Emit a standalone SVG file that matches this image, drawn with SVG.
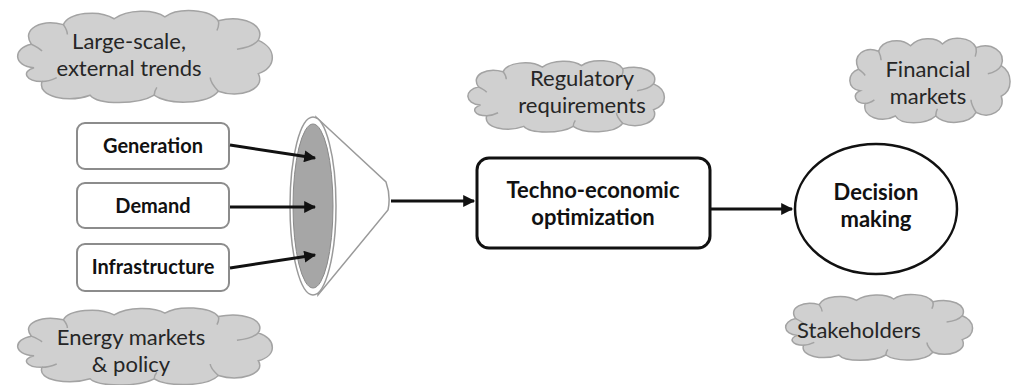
<svg xmlns="http://www.w3.org/2000/svg" xmlns:xlink="http://www.w3.org/1999/xlink" width="1017" height="385" viewBox="0 0 1017 385">
<style>
.cloud{fill:#d0d0d0;stroke:#a3a3a3;stroke-width:1.5}
.cloud .in{fill:none}
.ct{font-family:Lato,"Open Sans",sans-serif;font-size:22px;fill:#262626;text-anchor:middle}
.box{fill:#fff;stroke:#8c8c8c;stroke-width:2}
.bt{font-family:Lato,"Open Sans",sans-serif;font-weight:bold;font-size:20px;fill:#111;text-anchor:middle}
.bt2{font-family:Lato,"Open Sans",sans-serif;font-weight:bold;font-size:22px;fill:#111;text-anchor:middle}
.conn{stroke:#111;stroke-width:3;fill:none;marker-end:url(#ah)}
</style>
<defs>
<marker id="ah" viewBox="0 0 10 10" refX="9" refY="5" markerWidth="4.2" markerHeight="4" orient="auto" markerUnits="strokeWidth">
<path d="M0,0 L10,5 L0,10 z" fill="#111"/>
</marker>
<g id="cl">
<path vector-effect="non-scaling-stroke" d="M18,62 C2,60 2,42 16,38 C8,22 24,12 40,18 C44,6 66,2 78,12 C88,2 108,2 116,10 C126,0 150,2 156,14 C174,8 192,18 186,34 C200,42 200,62 186,68 C192,84 172,94 156,86 C148,100 118,100 108,90 C96,100 66,100 60,90 C44,98 20,92 24,76 C12,76 8,66 18,62 Z"/>
<path class="in" vector-effect="non-scaling-stroke" d="M40,18 C42,22 43,25 43,28 M156,14 C157,18 156,21 155,24 M186,34 C182,40 176,42 170,43 M156,86 C152,80 150,76 150,72 M108,90 C108,87 109,84 110,82 M24,76 C28,76 32,74 35,72 M16,38 C19,40 22,42 24,45"/>
</g>
</defs>
<g id="cloud-trends">
<use xlink:href="#cl" class="cloud" transform="translate(10,7) scale(1.335,0.98)"/>
<text class="ct" x="129" y="49">Large-scale,</text>
<text class="ct" x="129" y="76">external trends</text>
</g>
<g id="cloud-regulatory">
<use xlink:href="#cl" class="cloud" transform="translate(462,58) scale(1.03,0.76)"/>
<text class="ct" x="582" y="86">Regulatory</text>
<text class="ct" x="582" y="113">requirements</text>
</g>
<g id="cloud-financial">
<use xlink:href="#cl" class="cloud" transform="translate(845,35) scale(0.84,0.9)"/>
<text class="ct" x="928" y="77">Financial</text>
<text class="ct" x="928" y="104">markets</text>
</g>
<g id="cloud-energy">
<use xlink:href="#cl" class="cloud" transform="translate(10,305) scale(1.335,0.82)"/>
<text class="ct" x="131" y="345">Energy markets</text>
<text class="ct" x="131" y="372">&amp; policy</text>
</g>
<g id="cloud-stakeholders">
<use xlink:href="#cl" class="cloud" transform="translate(780,292) scale(0.98,0.7)"/>
<text class="ct" x="859" y="338">Stakeholders</text>
</g>
<g id="generation">
<rect class="box" x="77" y="123" width="152" height="46" rx="8"/>
<text class="bt" x="153" y="153">Generation</text>
</g>
<g id="demand">
<rect class="box" x="77" y="183" width="152" height="45" rx="8"/>
<text class="bt" x="153" y="213">Demand</text>
</g>
<g id="infrastructure">
<rect class="box" x="77" y="244" width="152" height="47" rx="8"/>
<text class="bt" x="153" y="274">Infrastructure</text>
</g>
<g id="funnel">
<path d="M316,117 L386,182 Q391,196 388,210 L318,295 Z" fill="#fff" stroke="#9a9a9a" stroke-width="1.5"/>
<ellipse cx="313" cy="206" rx="23" ry="89" fill="#fff" stroke="#9a9a9a" stroke-width="1.5"/>
<ellipse cx="313" cy="206" rx="20" ry="82" fill="#a6a6a6" stroke="#8a8a8a" stroke-width="1"/>
</g>
<g id="techno">
<rect x="477" y="158" width="233" height="90" rx="12" fill="#fff" stroke="#111" stroke-width="3"/>
<text class="bt2" x="593" y="198">Techno-economic</text>
<text class="bt2" x="593" y="225">optimization</text>
</g>
<g id="decision">
<ellipse cx="876" cy="209" rx="81" ry="65" fill="#fff" stroke="#111" stroke-width="2.5"/>
<text class="bt2" x="876" y="200">Decision</text>
<text class="bt2" x="876" y="227">making</text>
</g>
<g id="connectors">
<line class="conn" x1="230" y1="145" x2="315" y2="158"/>
<line class="conn" x1="230" y1="207" x2="315" y2="207"/>
<line class="conn" x1="230" y1="268" x2="315" y2="255"/>
<line class="conn" x1="391" y1="201" x2="474" y2="201"/>
<line class="conn" x1="710" y1="209" x2="792" y2="209"/>
</g>
</svg>
